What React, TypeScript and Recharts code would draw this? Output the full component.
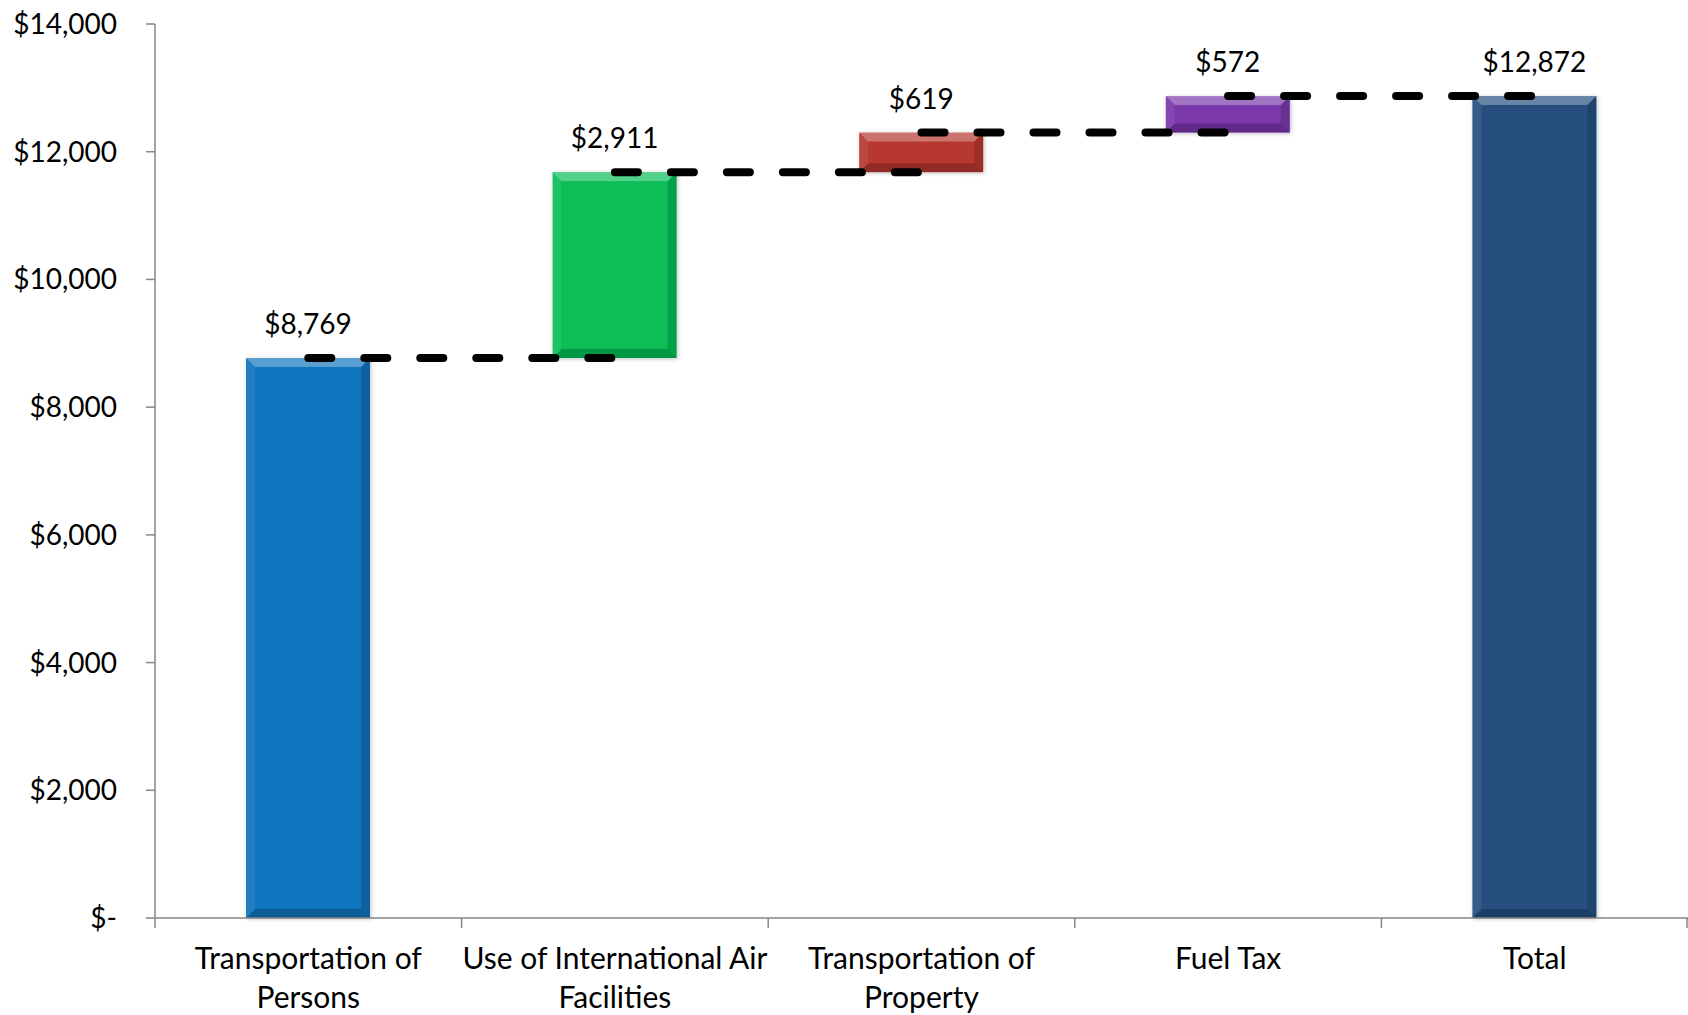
import React from 'react';
import { ComposedChart, Bar, Line, XAxis, YAxis, LabelList, Cell } from 'recharts';

const categories = [
  'Transportation of Persons',
  'Use of International Air Facilities',
  'Transportation of Property',
  'Fuel Tax',
  'Total',
];
const amounts = [8769, 2911, 619, 572, 12872];
const totalFlags = [false, false, false, false, true];
const yTicks = [0, 2000, 4000, 6000, 8000, 10000, 12000, 14000];

const barColors = ['#1174BD', '#07BD57', '#B7372F', '#7A38AB', '#25507F'];
const axisGray = '#868686';
const FONT = 'Lato, "Open Sans", sans-serif';

// each step floats on the running total; the total bar starts at zero
let running = 0;
const data: any[] = categories.map((name, i) => {
  const base = totalFlags[i] ? 0 : running;
  if (!totalFlags[i]) running += amounts[i];
  return { name, base, amount: amounts[i], top: base + amounts[i] };
});

// connector k runs from bar k to bar k+1 at the top of bar k
const linkKeys = categories.slice(0, -1).map((_, k) => `link${k}`);
data.forEach((row, i) => {
  linkKeys.forEach((key, k) => {
    row[key] = i === k || i === k + 1 ? data[k].top : null;
  });
});

const money = (v: number) => (v === 0 ? '$-' : '$' + v.toLocaleString('en-US'));

// greedy word wrap by character count
const wrap = (label: string, maxChars = 24) => {
  const lines: string[] = [];
  let cur = '';
  label.split(' ').forEach((word) => {
    const next = cur ? cur + ' ' + word : word;
    if (next.length > maxChars && cur) {
      lines.push(cur);
      cur = word;
    } else {
      cur = next;
    }
  });
  if (cur) lines.push(cur);
  return lines;
};

const BevelBar = (props: any) => {
  const { x, y, width: w, height: h, fill } = props;
  if (!h || h <= 0) return null;
  const b = Math.min(9, h / 3, w / 3);
  const pts = (arr: number[][]) => arr.map((p) => p.join(',')).join(' ');
  return (
    <g filter="url(#barShadow)">
      <rect x={x} y={y} width={w} height={h} fill={fill} />
      <polygon points={pts([[x, y], [x + w, y], [x + w - b, y + b], [x + b, y + b]])} fill="#fff" fillOpacity={0.3} />
      <polygon points={pts([[x, y], [x + b, y + b], [x + b, y + h - b], [x, y + h]])} fill="#fff" fillOpacity={0.08} />
      <polygon points={pts([[x + w, y], [x + w, y + h], [x + w - b, y + h - b], [x + w - b, y + b]])} fill="#000" fillOpacity={0.14} />
      <polygon points={pts([[x, y + h], [x + w, y + h], [x + w - b, y + h - b], [x + b, y + h - b]])} fill="#000" fillOpacity={0.2} />
    </g>
  );
};

// category labels sit between boundary tick marks
const CategoryTick = (props: any) => {
  const { x, y, payload, index, visibleTicksCount } = props;
  const half = payload.offset ?? 153.3;
  const axisY = y - 10;
  const lines = wrap(String(payload.value));
  return (
    <g>
      <line x1={x - half} x2={x - half} y1={axisY} y2={axisY + 10} stroke={axisGray} strokeWidth={1.5} />
      {index === visibleTicksCount - 1 && (
        <line x1={x + half - 1} x2={x + half - 1} y1={axisY} y2={axisY + 10} stroke={axisGray} strokeWidth={1.5} />
      )}
      <text x={x} y={axisY + 51} textAnchor="middle" fill="#000" style={{ fontSize: 30, fontFamily: FONT }}>
        {lines.map((line, i) => (
          <tspan key={i} x={x} dy={i === 0 ? 0 : 39}>
            {line}
          </tspan>
        ))}
      </text>
    </g>
  );
};

export default function App() {
  return (
    <div style={{ position: 'absolute', left: 0, top: 0, width: 1688, height: 1015, background: '#fff', fontFamily: FONT }}>
      <ComposedChart width={1688} height={1015} data={data} margin={{ top: 24, right: 0, bottom: 0, left: 0 }}>
        <defs>
          <filter id="barShadow" x="-10%" y="-10%" width="120%" height="120%">
            <feDropShadow dx="1" dy="1" stdDeviation="2" floodColor="#000" floodOpacity="0.25" />
          </filter>
        </defs>
        <XAxis
          dataKey="name"
          interval={0}
          height={97}
          tickSize={10}
          tickMargin={0}
          tickLine={false}
          axisLine={{ stroke: axisGray, strokeWidth: 1.5 }}
          tick={<CategoryTick />}
        />
        <YAxis
          width={155}
          domain={[0, 14000]}
          ticks={yTicks}
          interval={0}
          tickFormatter={money}
          tickSize={9}
          tickMargin={29}
          axisLine={{ stroke: axisGray, strokeWidth: 1.5 }}
          tickLine={{ stroke: axisGray, strokeWidth: 1.5 }}
          tick={{ fill: '#000', fontSize: 28, fontFamily: FONT }}
        />
        <Bar dataKey="base" stackId="w" fill="transparent" barSize={124} isAnimationActive={false} />
        <Bar dataKey="amount" stackId="w" barSize={124} shape={<BevelBar />} isAnimationActive={false}>
          {data.map((_, i) => (
            <Cell key={i} fill={barColors[i]} />
          ))}
          <LabelList
            dataKey="amount"
            position="top"
            offset={24}
            formatter={(v: any) => money(Number(v))}
            fill="#000"
            style={{ fontSize: 28, fontFamily: FONT }}
          />
        </Bar>
        {linkKeys.map((key) => (
          <Line
            key={key}
            dataKey={key}
            stroke="#000"
            strokeWidth={8}
            strokeDasharray="23 33"
            strokeLinecap="round"
            dot={false}
            activeDot={false}
            connectNulls={false}
            isAnimationActive={false}
          />
        ))}
      </ComposedChart>
    </div>
  );
}
